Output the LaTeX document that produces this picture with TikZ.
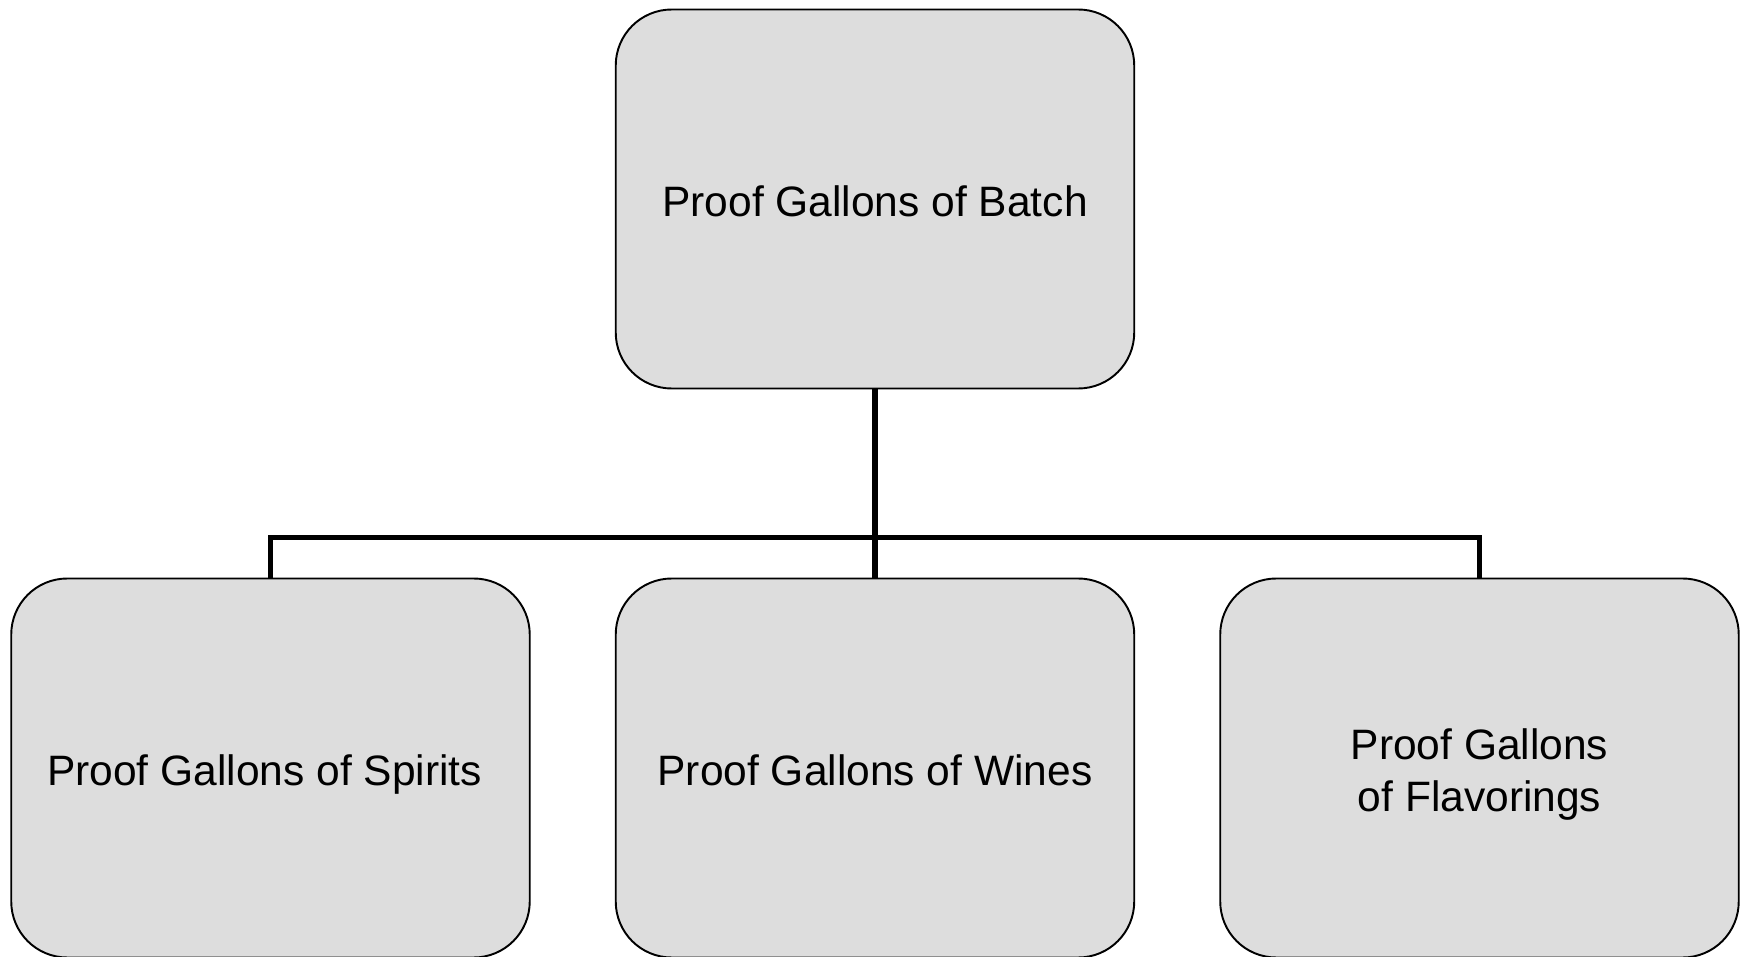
\documentclass[tikz,border=0pt]{standalone}
\usepackage{fontspec}
\setmainfont{Liberation Sans}
\usepackage{tikz}
\usetikzlibrary{shapes,arrows,positioning}
\definecolor{boxgray}{HTML}{DDDDDD}
\newcommand{\txtup}{\rule{0pt}{26pt}}
\newcommand{\txtdown}{\rule[-6pt]{0pt}{6pt}}

\begin{document}
\begin{tikzpicture}[node distance=11.38cm, auto]
    % Estilos
    \tikzstyle{block} = [rectangle, draw, line width=1.1pt, fill=boxgray, align=center, rounded corners=1.12cm, minimum width=10.37cm, minimum height=7.58cm, inner sep=0pt, font=\fontsize{24.2}{29.5}\selectfont]
    \tikzstyle{line} = [draw, line width=3.3pt]

    \useasboundingbox (-17.5,3.98) rectangle (17.5,-15.16);

    % Nós
    \node [block] (batch) {\txtup Proof Gallons of Batch\txtdown};
    \node [block, below of=batch] (wines) {\txtup Proof Gallons of Wines\txtdown};
    \node [block, left of=wines, node distance=12.09cm] (spirits) {\txtup Proof Gallons of Spirits\ \txtdown};
    \node [block, right of=wines, node distance=12.09cm] (flavorings) {\txtup Proof Gallons\\of Flavorings\txtdown};

    % Conexões
    \path [line] (batch) -- (wines);
    \path [line] (spirits.north) -- ++(0,0.8) -| (flavorings.north);
\end{tikzpicture}
\end{document}
